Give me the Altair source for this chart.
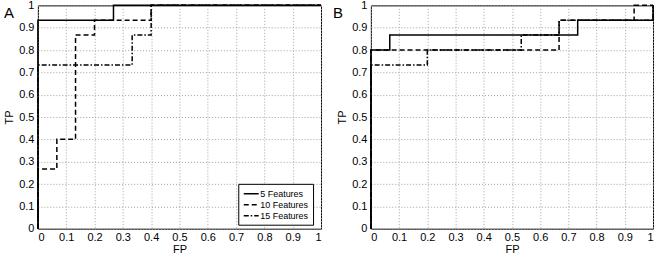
import altair as alt
import pandas as pd

series_names = ["5 Features", "10 Features", "15 Features"]
tick_values = [0, 0.1, 0.2, 0.3, 0.4, 0.5, 0.6, 0.7, 0.8, 0.9, 1]
panel_labels = ["A", "B"]

# Panel A
a_fp_5 = [0, 0, 0.267, 1]
a_tp_5 = [0, 0.933, 1, 1]
a_fp_10 = [0, 0, 0.067, 0.133, 0.2, 0.4, 1]
a_tp_10 = [0, 0.267, 0.4, 0.867, 0.933, 1, 1]
a_fp_15 = [0, 0, 0.333, 0.4, 1]
a_tp_15 = [0, 0.733, 0.867, 1, 1]

# Panel B
b_fp_5 = [0, 0, 0.067, 0.733, 1]
b_tp_5 = [0, 0.8, 0.867, 0.933, 1]
b_fp_10 = [0, 0, 0.667, 0.933, 1]
b_tp_10 = [0, 0.8, 0.933, 1, 1]
b_fp_15 = [0, 0, 0.2, 0.533, 0.667, 1]
b_tp_15 = [0, 0.733, 0.8, 0.867, 0.933, 1]


def make_df(groups):
    rows = []
    for name, fps, tps in groups:
        for i, (f, t) in enumerate(zip(fps, tps)):
            rows.append({"series": name, "FP": f, "TP": t, "idx": i})
    return pd.DataFrame(rows)


df_a = make_df([(series_names[0], a_fp_5, a_tp_5),
                (series_names[1], a_fp_10, a_tp_10),
                (series_names[2], a_fp_15, a_tp_15)])
df_b = make_df([(series_names[0], b_fp_5, b_tp_5),
                (series_names[1], b_fp_10, b_tp_10),
                (series_names[2], b_fp_15, b_tp_15)])

dash_range = [[1, 0], [5, 3], [5, 2, 1.5, 2]]


def panel(df, label, width, label_dx, show_legend):
    if show_legend:
        leg = alt.Legend(title=None, orient="none", legendX=201, legendY=179,
                         symbolType="M-1.5,0H1.5", symbolSize=100, symbolStrokeWidth=1.5,
                         symbolStrokeColor="black", symbolOffset=3, labelFontSize=9,
                         labelFont="Liberation Sans", labelColor="black",
                         strokeColor="black", fillColor="white", padding=4,
                         rowPadding=0, labelOffset=3, cornerRadius=0)
    else:
        leg = None
    lines = alt.Chart(df).mark_line(interpolate="step-after", color="black",
                                    strokeWidth=1.5).encode(
        x=alt.X("FP:Q", scale=alt.Scale(domain=[0, 1], nice=False),
                axis=alt.Axis(values=tick_values, format="~g", title="FP")),
        y=alt.Y("TP:Q", scale=alt.Scale(domain=[0, 1], nice=False),
                axis=alt.Axis(values=tick_values, format="~g", title="TP")),
        strokeDash=alt.StrokeDash("series:N",
                                  scale=alt.Scale(domain=series_names, range=dash_range),
                                  legend=leg),
        detail="series:N",
        order=alt.Order("idx:Q"),
    )
    txt = alt.Chart(pd.DataFrame({"lab": [label]})).mark_text(
        align="left", baseline="alphabetic", fontSize=15,
        font="Liberation Sans", color="black").encode(
        x=alt.value(label_dx), y=alt.value(13), text="lab:N")
    return alt.layer(lines, txt).properties(width=width, height=224)


pa = panel(df_a, panel_labels[0], 284, -34, True)
pb = panel(df_b, panel_labels[1], 283, -38, False)

chart = alt.hconcat(pa, pb, spacing=50, bounds="flush").resolve_legend(
    strokeDash="independent"
).properties(
    padding={"left": 3, "top": -2, "right": 2, "bottom": 0}
).configure_view(
    stroke="black", strokeWidth=1
).configure_axis(
    grid=True, gridColor="#a0a0a0", gridDash=[1, 2], gridWidth=1,
    domain=False, ticks=False, labelFont="Liberation Sans", labelFontSize=11,
    labelColor="black", titleFont="Liberation Sans", titleFontSize=11,
    titleFontWeight="normal", titleColor="black"
).configure_axisX(
    labelPadding=3, titlePadding=1
).configure_axisY(
    labelPadding=4, titlePadding=4
)

chart.save("out.html", embed_options={"renderer": "svg", "actions": False})
